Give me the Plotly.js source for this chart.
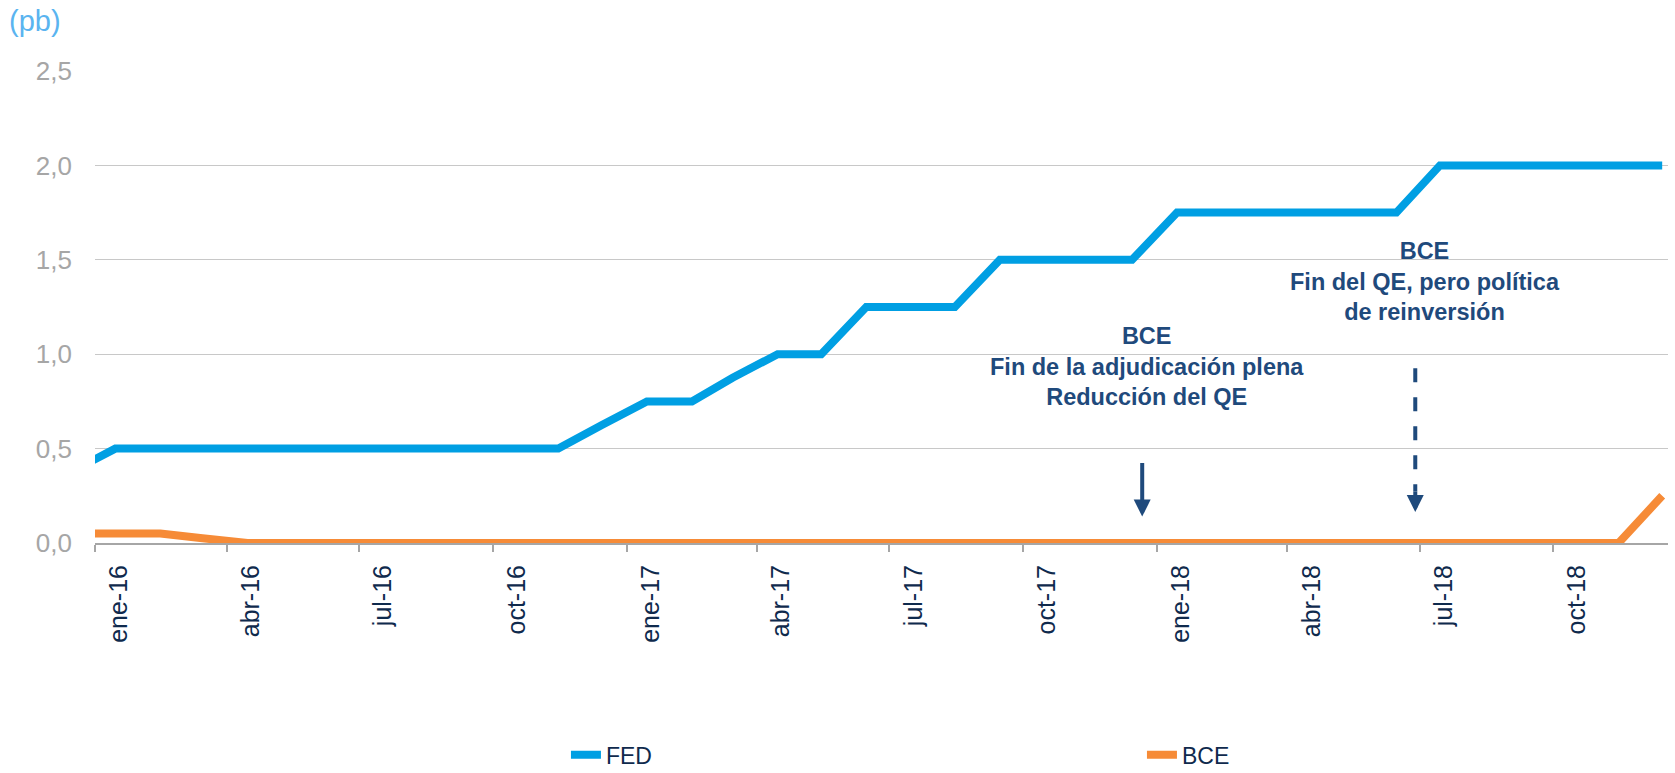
<!DOCTYPE html>
<html>
<head>
<meta charset="utf-8">
<script src="https://cdn.plot.ly/plotly-3.0.1.min.js"></script>
<style>html,body{margin:0;padding:0;background:#fff;}#chart{width:1675px;height:773px;}</style>
</head>
<body>
<div id="chart"></div>
<script>
// Monthly observations (mid-month)
var months = [
  '2015-12-15',
  '2016-01-15','2016-02-15','2016-03-15','2016-04-15','2016-05-15','2016-06-15',
  '2016-07-15','2016-08-15','2016-09-15','2016-10-15','2016-11-15','2016-12-15',
  '2017-01-15','2017-02-15','2017-03-15','2017-04-15','2017-05-15','2017-06-15',
  '2017-07-15','2017-08-15','2017-09-15','2017-10-15','2017-11-15','2017-12-15',
  '2018-01-15','2018-02-15','2018-03-15','2018-04-15','2018-05-15','2018-06-15',
  '2018-07-15','2018-08-15','2018-09-15','2018-10-15','2018-11-15','2018-12-15'
];
var fed = [
  0.375,
  0.5,0.5,0.5,0.5,0.5,0.5,0.5,0.5,0.5,0.5,0.5,0.625,
  0.75,0.75,0.875,1.0,1.0,1.25,1.25,1.25,1.5,1.5,1.5,1.5,
  1.75,1.75,1.75,1.75,1.75,1.75,2.0,2.0,2.0,2.0,2.0,2.0
];
var bce = [
  0.05,
  0.05,0.05,0.025,0,0,0,0,0,0,0,0,0,
  0,0,0,0,0,0,0,0,0,0,0,0,
  0,0,0,0,0,0,0,0,0,0,0,0.25
];
var tickDates = ['2016-01-01','2016-04-01','2016-07-01','2016-10-01','2017-01-01','2017-04-01',
  '2017-07-01','2017-10-01','2018-01-01','2018-04-01','2018-07-01','2018-10-01'];
var tickLabels = ['ene-16','abr-16','jul-16','oct-16','ene-17','abr-17',
  'jul-17','oct-17','ene-18','abr-18','jul-18','oct-18'];
var yTicks = [0, 0.5, 1.0, 1.5, 2.0, 2.5];
var seriesNames = ['FED', 'BCE'];
var note1 = 'BCE<br>Fin de la adjudicación plena<br>Reducción del QE';
var note2 = 'BCE<br>Fin del QE, pero política<br>de reinversión';

var NAVY = '#0f2a4d';
var ANN = '#1f4a7c';

var traces = [
  {x: months, y: fed, name: seriesNames[0], type: 'scatter', mode: 'lines',
   line: {color: '#009fe3', width: 8}, cliponaxis: false},
  {x: months, y: bce, name: seriesNames[1], type: 'scatter', mode: 'lines',
   line: {color: '#f68b37', width: 8}, cliponaxis: false}
];

var layout = {
  width: 1675, height: 773,
  margin: {l: 95, r: 7, t: 71, b: 229.5, autoexpand: false},
  paper_bgcolor: '#fff', plot_bgcolor: '#fff',
  separators: ',.',
  font: {family: 'Liberation Sans, Arial, sans-serif'},
  showlegend: true,
  legend: {orientation: 'h', x: 0.2994, xanchor: 'left', y: -0.403, yanchor: 'top',
    font: {size: 23, color: NAVY}, entrywidth: 531, entrywidthmode: 'pixels',
    itemwidth: 30},
  xaxis: {
    type: 'date', range: ['2016-01-01', '2018-12-19'],
    tickvals: tickDates, ticktext: tickLabels, tickangle: -90,
    tickfont: {size: 25, color: NAVY},
    ticks: 'outside', ticklen: 7, tickwidth: 2, tickcolor: '#a6a6a6',
    showline: true, linecolor: '#a6a6a6', linewidth: 2,
    showgrid: false, zeroline: false, layer: 'below traces',
    ticklabelstandoff: 3, ticklabelshift: 24, automargin: false
  },
  yaxis: {
    range: [0, 2.5], tickvals: yTicks, tickformat: '.1f',
    tickfont: {size: 26, color: '#a6a6a6'},
    showgrid: true, gridcolor: '#c8c8c8', gridwidth: 1.4,
    zeroline: false, showline: false, ticks: '',
    ticklabelstandoff: 22, layer: 'below traces', automargin: false
  },
  shapes: [
    {type: 'line', xref: 'x', yref: 'y', x0: '2018-06-28', x1: '2018-06-28', y0: 0.926, y1: 0.273,
     line: {color: ANN, width: 4, dash: '14px,15px'}}
  ],
  annotations: [
    {xref: 'paper', yref: 'paper', x: -0.056, y: 1.106, xanchor: 'left', yanchor: 'middle',
     text: '(pb)', showarrow: false, font: {size: 29, color: '#5ab4f0'}},
    {xref: 'x', yref: 'y', x: '2017-12-25', y: 0.933, xanchor: 'center', yanchor: 'middle',
     text: note1, showarrow: false, align: 'center',
     font: {size: 23.5, color: ANN, weight: 700}},
    {xref: 'x', yref: 'y', x: '2018-07-05', y: 1.385, xanchor: 'center', yanchor: 'middle',
     text: note2, showarrow: false, align: 'center',
     font: {size: 23.5, color: ANN, weight: 700}},
    {xref: 'x', yref: 'y', x: '2017-12-22', y: 0.14, ax: 0, ay: -55, text: '',
     showarrow: true, arrowhead: 2, arrowsize: 0.85, arrowwidth: 4, arrowcolor: ANN, standoff: 0},
    {xref: 'x', yref: 'y', x: '2018-06-28', y: 0.164, ax: 0, ay: -22, text: '',
     showarrow: true, arrowhead: 2, arrowsize: 0.85, arrowwidth: 4, arrowcolor: ANN, standoff: 0}
  ]
};

Plotly.newPlot('chart', traces, layout, {displayModeBar: false, staticPlot: true});
</script>
</body>
</html>
